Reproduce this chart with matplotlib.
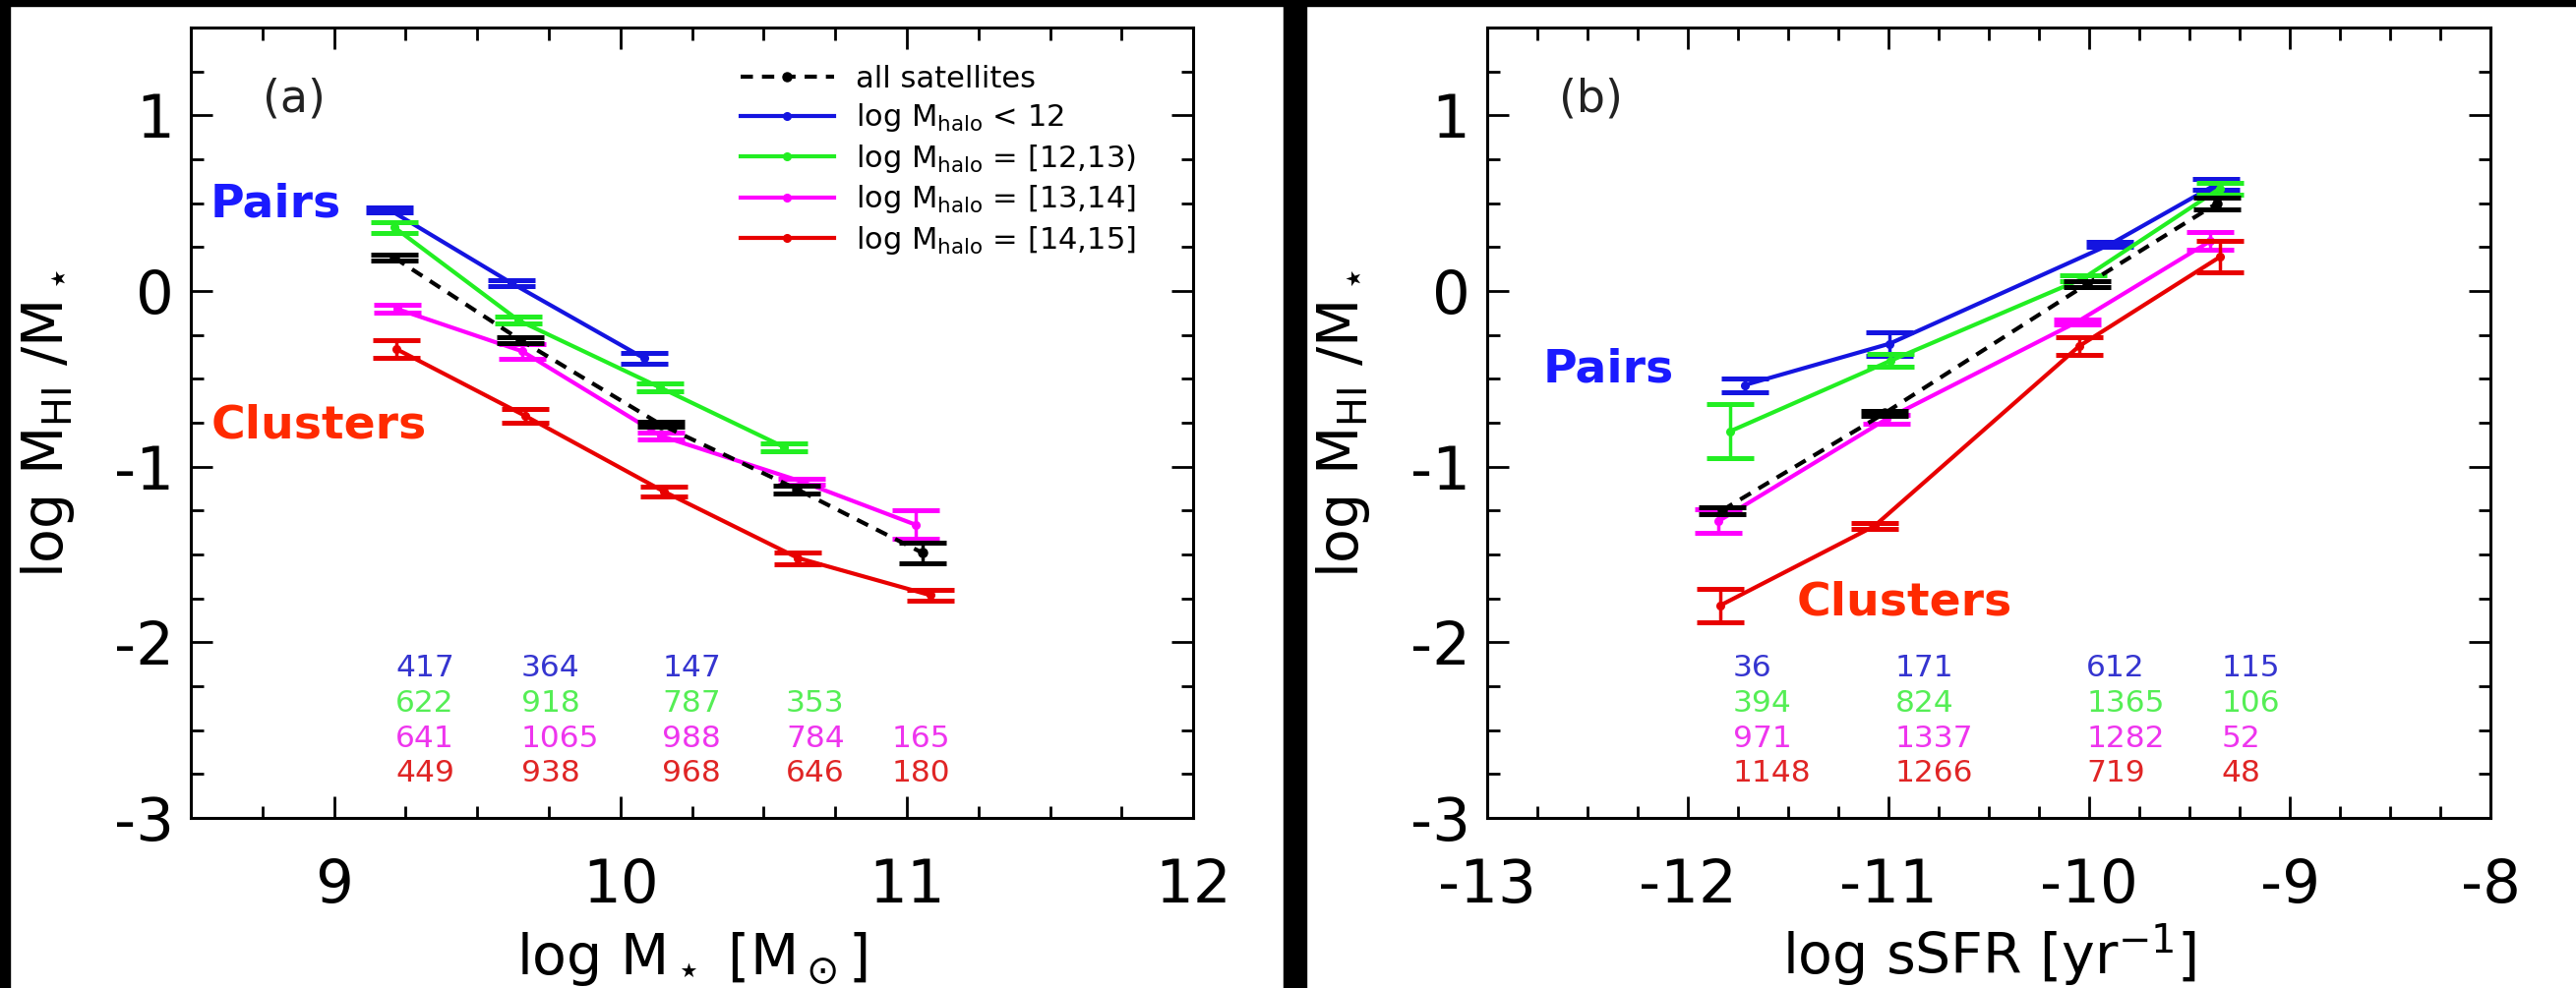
import numpy as np
import matplotlib
matplotlib.use('Agg')
import matplotlib.pyplot as plt
from matplotlib.ticker import MultipleLocator
from matplotlib.patches import Rectangle

plt.rcParams['font.family'] = 'DejaVu Sans'
plt.rcParams['mathtext.fontset'] = 'dejavusans'
plt.rcParams['mathtext.default'] = 'regular'
plt.rcParams['axes.unicode_minus'] = False

# ---- panel (a): HI fraction vs stellar mass ----
ms_all = [9.21, 9.652, 10.14, 10.616, 11.054]
fa_all = [0.19, -0.28, -0.759, -1.128, -1.49]
ea_all = [0.015, 0.015, 0.015, 0.022, 0.059]

ms_h1 = [9.194, 9.62, 10.083]
fa_h1 = [0.462, 0.045, -0.383]
ea_h1 = [0.015, 0.018, 0.032]

ms_h2 = [9.21, 9.644, 10.138, 10.572]
fa_h2 = [0.363, -0.167, -0.549, -0.889]
ea_h2 = [0.03, 0.02, 0.023, 0.022]

ms_h3 = [9.22, 9.657, 10.14, 10.633, 11.03]
fa_h3 = [-0.102, -0.343, -0.824, -1.085, -1.33]
ea_h3 = [0.023, 0.043, 0.02, 0.015, 0.081]

ms_h4 = [9.216, 9.669, 10.151, 10.62, 11.083]
fa_h4 = [-0.329, -0.712, -1.141, -1.52, -1.732]
ea_h4 = [0.05, 0.039, 0.03, 0.033, 0.032]

# galaxy counts per bin (rows: halo-mass classes)
na_h1 = [417, 364, 147]
na_h2 = [622, 918, 787, 353]
na_h3 = [641, 1065, 988, 784, 165]
na_h4 = [449, 938, 968, 646, 180]

# ---- panel (b): HI fraction vs sSFR ----
ss_all = [-11.83, -11.02, -10.01, -9.362]
fb_all = [-1.249, -0.696, 0.04, 0.50]
eb_all = [0.02, 0.015, 0.015, 0.034]

ss_h1 = [-11.716, -10.995, -9.897, -9.366]
fb_h1 = [-0.535, -0.30, 0.265, 0.608]
eb_h1 = [0.039, 0.067, 0.013, 0.03]

ss_h2 = [-11.788, -10.988, -10.028, -9.35]
fb_h2 = [-0.798, -0.396, 0.073, 0.583]
eb_h2 = [0.154, 0.036, 0.018, 0.034]

ss_h3 = [-11.847, -11.01, -10.06, -9.395]
fb_h3 = [-1.31, -0.729, -0.176, 0.285]
eb_h3 = [0.065, 0.025, 0.014, 0.051]

ss_h4 = [-11.84, -11.07, -10.05, -9.346]
fb_h4 = [-1.791, -1.338, -0.314, 0.196]
eb_h4 = [0.093, 0.015, 0.049, 0.092]

nb_h1 = [36, 171, 612, 115]
nb_h2 = [394, 824, 1365, 106]
nb_h3 = [971, 1337, 1282, 52]
nb_h4 = [1148, 1266, 719, 48]

labels = [r'log M$_{\rm halo}$ < 12',
          r'log M$_{\rm halo}$ = [12,13)',
          r'log M$_{\rm halo}$ = [13,14]',
          r'log M$_{\rm halo}$ = [14,15]']
colors = ['#1414e0', '#22ee22', '#ff00ff', '#e80000']
num_colors = ['#3535d0', '#55ee55', '#ee35ee', '#e02525']


def draw_panel(ax, all_xye, halo_xye, counts, col_x, xlim, xlabel, tag,
               pairs_xy, clusters_xy, legend=False):
    handles = []
    for (x, y, e), c, lab in zip(halo_xye, colors, labels):
        ln, = ax.plot(x, y, '-', color=c, lw=3.0, marker='o', ms=5.5,
                      label=lab, zorder=3)
        ax.errorbar(x, y, yerr=e, fmt='none', ecolor=c, elinewidth=2.5,
                    capsize=17, capthick=3.6, zorder=3)
        handles.append(ln)
    x, y, e = all_xye
    ln, = ax.plot(x, y, color='k', lw=3.0, ls=(0, (3, 2.2)), marker='o',
                  ms=6.5, label='all satellites', zorder=4)
    ax.errorbar(x, y, yerr=e, fmt='none', ecolor='k', elinewidth=2.5,
                capsize=17, capthick=3.6, zorder=4)
    handles.insert(0, ln)

    # counts under the curves
    for row, (vals, c) in enumerate(zip(counts, num_colors)):
        for k, v in enumerate(vals):
            ax.text(col_x[k], -2.195 - 0.2 * row, str(v), color=c,
                    fontsize=22.5, ha='left', va='baseline')

    ax.text(pairs_xy[0], pairs_xy[1], 'Pairs', color='#1a1aff',
            fontsize=34, fontweight='bold', ha='left', va='baseline')
    ax.text(clusters_xy[0], clusters_xy[1], 'Clusters', color='#ff2a00',
            fontsize=34, fontweight='bold', ha='left', va='baseline')
    ax.text(xlim[0] + 0.25 * (xlim[1] - xlim[0]) / 3.5, 1.021, tag,
            fontsize=33, color='#222222', ha='left', va='baseline')

    ax.set_xlim(*xlim)
    ax.set_ylim(-3, 1.5)
    ax.xaxis.set_major_locator(MultipleLocator(1))
    ax.xaxis.set_minor_locator(MultipleLocator(0.25))
    ax.yaxis.set_major_locator(MultipleLocator(1))
    ax.yaxis.set_minor_locator(MultipleLocator(0.25))
    ax.tick_params(which='both', direction='in', top=True, right=True,
                   width=2)
    ax.tick_params(which='major', length=16)
    ax.tick_params(which='minor', length=9)
    ax.tick_params(axis='x', which='major', labelsize=44, pad=29)
    ax.tick_params(axis='y', which='major', labelsize=44, pad=12.5)
    for sp in ax.spines.values():
        sp.set_linewidth(2.2)

    ax.set_xlabel(xlabel, fontsize=41)
    ax.xaxis.label.set_va('baseline')
    ax.xaxis.set_label_coords(0.5, -0.198)
    ax.set_ylabel(r'log M$_{\rm HI}$ /M$_\star$', fontsize=41)
    ax.yaxis.label.set_va('baseline')
    ax.yaxis.set_label_coords(-0.128, 0.5)

    if legend:
        ax.legend(handles=handles, loc='upper left',
                  bbox_to_anchor=(0.5486, 0.953), frameon=False,
                  fontsize=22, handlelength=3.1, handletextpad=0.72,
                  labelspacing=0.28, borderpad=0, borderaxespad=0,
                  numpoints=1)


fig = plt.figure(figsize=(26.19, 10.05), dpi=100)
ax1 = fig.add_axes([0.0741, 0.1721, 0.3891, 0.8])
ax2 = fig.add_axes([0.5773, 0.1721, 0.3895, 0.8])

draw_panel(ax1, (ms_all, fa_all, ea_all),
           [(ms_h1, fa_h1, ea_h1), (ms_h2, fa_h2, ea_h2),
            (ms_h3, fa_h3, ea_h3), (ms_h4, fa_h4, ea_h4)],
           [na_h1, na_h2, na_h3, na_h4],
           [9.215, 9.653, 10.146, 10.578, 10.946],
           (8.5, 12), r'log M$_\star$ [M$_\odot$]', '(a)',
           (8.568, 0.422), (8.572, -0.834), legend=True)

draw_panel(ax2, (ss_all, fb_all, eb_all),
           [(ss_h1, fb_h1, eb_h1), (ss_h2, fb_h2, eb_h2),
            (ss_h3, fb_h3, eb_h3), (ss_h4, fb_h4, eb_h4)],
           [nb_h1, nb_h2, nb_h3, nb_h4],
           [-11.775, -10.968, -10.013, -9.339],
           (-13, -8), r'log sSFR [yr$^{-1}$]', '(b)',
           (-12.72, -0.517), (-11.456, -1.842))

# black frame strips around / between the panels
for r in [(0, 0.994, 1, 0.006), (0, 0, 0.0038, 1), (0.4983, 0, 0.0088, 1)]:
    fig.patches.append(Rectangle(r[:2], r[2], r[3], transform=fig.transFigure,
                                 color='black', zorder=10))

fig.savefig('out.png', dpi=100)
